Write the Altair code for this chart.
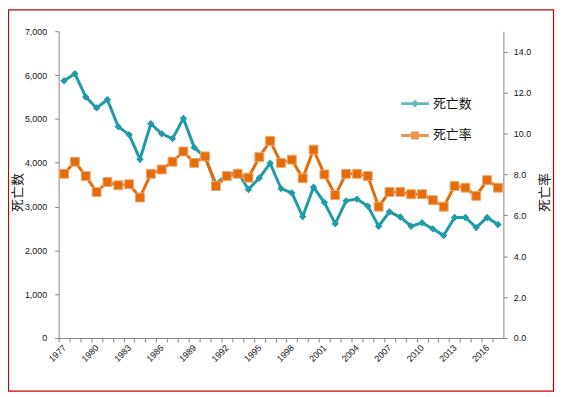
import json
import altair as alt
import pandas as pd

years = list(range(1977, 2018))
deaths = [5870, 6030, 5500, 5250, 5440, 4820, 4640, 4080, 4890, 4660,
          4550, 5010, 4350, 4120, 3520, 3720, 3790, 3390, 3650, 3990,
          3410, 3310, 2770, 3440, 3090, 2610, 3130, 3170, 3010, 2550,
          2880, 2760, 2550, 2630, 2490, 2340, 2750, 2750, 2520, 2750, 2590]
rates = [8.03, 8.62, 7.92, 7.14, 7.63, 7.47, 7.52, 6.87, 8.03, 8.24,
         8.62, 9.12, 8.56, 8.88, 7.43, 7.92, 8.03, 7.84, 8.85, 9.64,
         8.56, 8.72, 7.81, 9.21, 8.00, 6.99, 8.03, 8.03, 7.92, 6.42,
         7.14, 7.14, 7.03, 7.03, 6.74, 6.42, 7.43, 7.35, 6.95, 7.72, 7.35]
label_years = [1977, 1980, 1983, 1986, 1989, 1992, 1995, 1998, 2001, 2004,
               2007, 2010, 2013, 2016]
left_ticks = [0, 1000, 2000, 3000, 4000, 5000, 6000, 7000]
right_ticks = [0, 2, 4, 6, 8, 10, 12, 14]
series = ["死亡数", "死亡率"]
colors = ["#1F9BA6", "#E46C0A"]
legend_paths = [
    "M-1,-0.1H1V0.1H-1Z M0,-0.28L0.28,0L0,0.28L-0.28,0Z",
    "M-1,-0.1H1V0.1H-1Z M-0.28,-0.28H0.28V0.28H-0.28Z",
]

W, H = 448, 309
step = W / len(years)

df = pd.DataFrame({"year": years, "deaths": deaths, "rate": rates})
legend_df = pd.DataFrame({"series": series})

NUM_FONT = "Liberation Sans"
CJK_FONT = "Noto Sans CJK SC"
AXIS_GRAY = "#868686"

x_enc = alt.X(
    "year:Q",
    scale=alt.Scale(domain=[years[0] - 0.5, years[-1] + 0.5], nice=False, zero=False),
    axis=alt.Axis(
        values=years, format="d", title=None,
        labelExpr=f"indexof({json.dumps(label_years)}, datum.value) >= 0 ? datum.label : ''",
        labelAngle=-45, labelAlign="right", labelBaseline="middle",
        labelPadding=4, labelOverlap=False, labelFlush=False,
        tickOffset=-step / 2, labelOffset=step / 2, tickSize=4,
        labelFont=NUM_FONT, labelFontSize=9, labelColor="#111",
        domainColor=AXIS_GRAY, tickColor=AXIS_GRAY, grid=False,
    ),
)

blue = alt.Chart(df).mark_line(
    color=colors[0], strokeWidth=3,
    point=alt.OverlayMarkDef(shape="diamond", size=55, filled=True, color=colors[0]),
).encode(
    x=x_enc,
    y=alt.Y(
        "deaths:Q",
        scale=alt.Scale(domain=[0, 7000], nice=False),
        axis=alt.Axis(
            orient="left", values=left_ticks, format=",.0f", grid=False,
            tickSize=4, labelPadding=8, labelFont=NUM_FONT, labelFontSize=9,
            labelColor="#111", domainColor=AXIS_GRAY, tickColor=AXIS_GRAY,
            title="死亡数", titleFont=CJK_FONT, titleFontSize=13,
            titleFontWeight="normal", titleColor="#111",
            titleAngle=270, titleX=-41, titleY=162,
            titleAlign="center", titleBaseline="middle",
        ),
    ),
)

orange = alt.Chart(df).mark_line(
    color=colors[1], strokeWidth=3,
    point=alt.OverlayMarkDef(shape="square", size=80, filled=True,
                             fill=colors[1], stroke="#F2A66A", strokeWidth=1),
).encode(
    x=x_enc,
    y=alt.Y(
        "rate:Q",
        scale=alt.Scale(domain=[0, 15], nice=False),
        axis=alt.Axis(
            orient="right", values=right_ticks, format=".1f", grid=False,
            tickSize=4, labelPadding=6, labelFont=NUM_FONT, labelFontSize=9,
            labelColor="#111", domainColor=AXIS_GRAY, tickColor=AXIS_GRAY,
            title="死亡率", titleFont=CJK_FONT, titleFontSize=13,
            titleFontWeight="normal", titleColor="#111",
            titleAngle=270, titleX=41, titleY=162,
            titleAlign="center", titleBaseline="middle",
        ),
    ),
)

leg = alt.Legend(
    orient="none", legendX=345, legendY=59, title=None, padding=0,
    symbolSize=784, symbolStrokeWidth=0, rowPadding=11, labelOffset=4,
    labelFont=CJK_FONT, labelFontSize=13, labelColor="#111",
)
legend_layer = alt.Chart(legend_df).mark_point(filled=True, size=10).encode(
    x=alt.value(-2000),
    y=alt.value(-2000),
    color=alt.Color("series:N", scale=alt.Scale(domain=series, range=colors), legend=leg),
    shape=alt.Shape("series:N", scale=alt.Scale(domain=series, range=legend_paths), legend=leg),
)

border = alt.Chart(pd.DataFrame({"k": [0]})).mark_rect(
    fill=None, stroke="#CC0000", strokeWidth=1.2
).encode(
    x=alt.value(-50.5), x2=alt.value(498.5),
    y=alt.value(-21.5), y2=alt.value(362.5),
)

chart = alt.layer(border, blue, orange, legend_layer).resolve_scale(
    y="independent"
).properties(
    width=W, height=H,
    autosize=alt.AutoSizeParams(type="none"),
    padding={"left": 51, "top": 22, "right": 52, "bottom": 57},
    background="white",
).configure_view(stroke=None)

chart.save("out.html", embed_options={"renderer": "svg", "actions": False})
